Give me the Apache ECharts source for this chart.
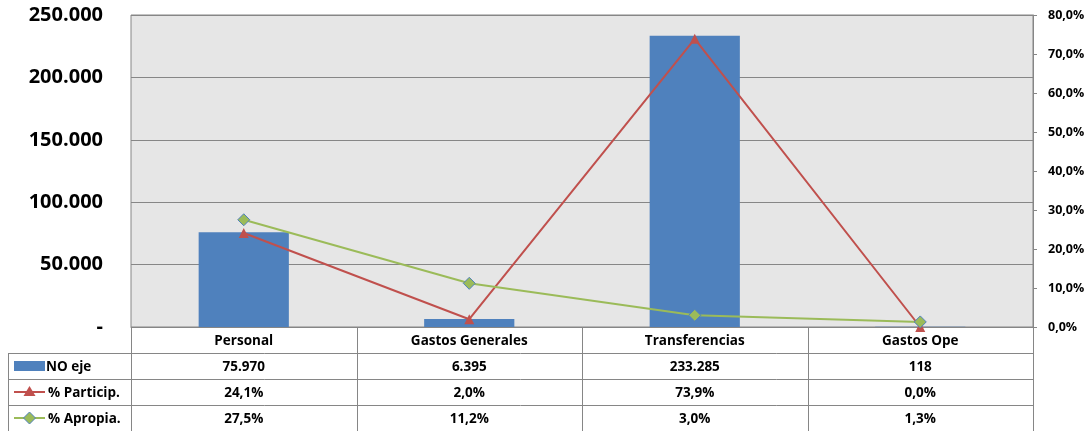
<!DOCTYPE html>
<html>
<head>
<meta charset="utf-8">
<script src="https://cdn.jsdelivr.net/npm/echarts@6/dist/echarts.min.js"></script>
<style>html,body{margin:0;padding:0;background:#fff}#c{width:1092px;height:431px}</style>
</head>
<body>
<div id="c"></div>
<script>
const categories = ['Personal', 'Gastos Generales', 'Transferencias', 'Gastos Ope'];
const noEje = [75970, 6395, 233285, 118];
const particip = [24.1, 2.0, 73.9, 0.0];
const apropia = [27.5, 11.2, 3.0, 1.3];
const seriesNames = ['NO eje', '% Particip.', '% Apropia.'];

const FONT = '"Open Sans", "Liberation Sans", sans-serif';
const BLUE = '#4F81BD', RED = '#C0504D', GREEN = '#9BBB59', LINE = '#868686';
const L = 131, R = 1033, T = 15, B = 327, W = 1092, H = 431;
const ROW = 26, LEGX = 8;

function thousands(v) {
  return String(Math.round(v)).replace(/\B(?=(\d{3})+(?!\d))/g, '.');
}
function pct(v) { return v.toFixed(1).replace('.', ',') + '%'; }

const chart = echarts.init(document.getElementById('c'), null, {renderer: 'canvas'});

const g = [];
const cw = (R - L) / categories.length;
const rows = [null, noEje.map(thousands), particip.map(pct), apropia.map(pct)];
for (let r = 1; r <= 3; r++) {
  const y = B + r * ROW + 0.5;
  g.push({type: 'line', shape: {x1: LEGX, y1: y, x2: R, y2: y}, style: {stroke: LINE, lineWidth: 1}, silent: true});
}
for (let i = 0; i <= categories.length; i++) {
  const x = Math.round(L + i * cw) + 0.5;
  g.push({type: 'line', shape: {x1: x, y1: B, x2: x, y2: H}, style: {stroke: LINE, lineWidth: 1}, silent: true});
}
g.push({type: 'line', shape: {x1: LEGX + 0.5, y1: B + ROW, x2: LEGX + 0.5, y2: H}, style: {stroke: LINE, lineWidth: 1}, silent: true});
const cellFont = 'bold 13.5px ' + FONT;
for (let i = 0; i < categories.length; i++) {
  const cx = L + (i + 0.5) * cw;
  g.push({type: 'text', x: cx, y: B + ROW / 2 + 1, style: {text: categories[i], font: cellFont, fill: '#000', textAlign: 'center', textVerticalAlign: 'middle'}, silent: true});
  for (let r = 1; r <= 3; r++) {
    g.push({type: 'text', x: cx, y: B + r * ROW + ROW / 2 + 1, style: {text: rows[r][i], font: cellFont, fill: '#000', textAlign: 'center', textVerticalAlign: 'middle'}, silent: true});
  }
}
const ky = r => B + r * ROW + ROW / 2;
g.push({type: 'rect', shape: {x: 14, y: ky(1) - 5, width: 31, height: 10}, style: {fill: BLUE}, silent: true});
g.push({type: 'line', shape: {x1: 14, y1: ky(2), x2: 45, y2: ky(2)}, style: {stroke: RED, lineWidth: 2}, silent: true});
g.push({type: 'polygon', shape: {points: [[29.5, ky(2) - 6], [35.5, ky(2) + 4], [23.5, ky(2) + 4]]}, style: {fill: RED}, silent: true});
g.push({type: 'line', shape: {x1: 14, y1: ky(3), x2: 45, y2: ky(3)}, style: {stroke: GREEN, lineWidth: 2}, silent: true});
g.push({type: 'polygon', shape: {points: [[29.5, ky(3) - 6], [35.5, ky(3)], [29.5, ky(3) + 6], [23.5, ky(3)]]}, style: {fill: GREEN, stroke: BLUE, lineWidth: 1}, silent: true});
for (let r = 1; r <= 3; r++) {
  g.push({type: 'text', x: r === 1 ? 46 : 48, y: ky(r) + 1, style: {text: seriesNames[r - 1], font: cellFont, fill: '#000', textAlign: 'left', textVerticalAlign: 'middle'}, silent: true});
}

chart.setOption({
  animation: false,
  backgroundColor: '#fff',
  grid: {left: L, right: W - R, top: T, bottom: H - B, show: true, backgroundColor: '#E6E6E6', borderColor: LINE, borderWidth: 1},
  xAxis: {
    type: 'category', data: categories,
    axisLine: {show: true, lineStyle: {color: LINE}},
    axisTick: {show: false}, axisLabel: {show: false}, splitLine: {show: false}
  },
  yAxis: [
    {
      type: 'value', min: 0, max: 250000, interval: 50000, position: 'left',
      axisLine: {show: false}, axisTick: {show: false},
      splitLine: {show: true, lineStyle: {color: LINE, width: 1}},
      axisLabel: {margin: 28, fontFamily: FONT, fontWeight: 'bold', fontSize: 20, color: '#000',
        formatter: v => v === 0 ? '-' : thousands(v)}
    },
    {
      type: 'value', min: 0, max: 80, interval: 10, position: 'right',
      axisLine: {show: true, lineStyle: {color: LINE}},
      axisTick: {show: true, inside: false, length: 4, lineStyle: {color: LINE}},
      splitLine: {show: false},
      axisLabel: {margin: 15, fontFamily: FONT, fontWeight: 'bold', fontSize: 12.5, color: '#000',
        formatter: v => pct(v)}
    }
  ],
  series: [
    {name: seriesNames[0], type: 'bar', data: noEje, barWidth: '40%', itemStyle: {color: BLUE}, yAxisIndex: 0, z: 2},
    {name: seriesNames[1], type: 'line', data: particip, yAxisIndex: 1, symbol: 'triangle', symbolSize: 10,
      lineStyle: {color: RED, width: 2}, itemStyle: {color: RED}, z: 3},
    {name: seriesNames[2], type: 'line', data: apropia, yAxisIndex: 1, symbol: 'diamond', symbolSize: 12,
      lineStyle: {color: GREEN, width: 2}, itemStyle: {color: GREEN, borderColor: BLUE, borderWidth: 1}, z: 4}
  ],
  graphic: g
});
</script>
</body>
</html>
